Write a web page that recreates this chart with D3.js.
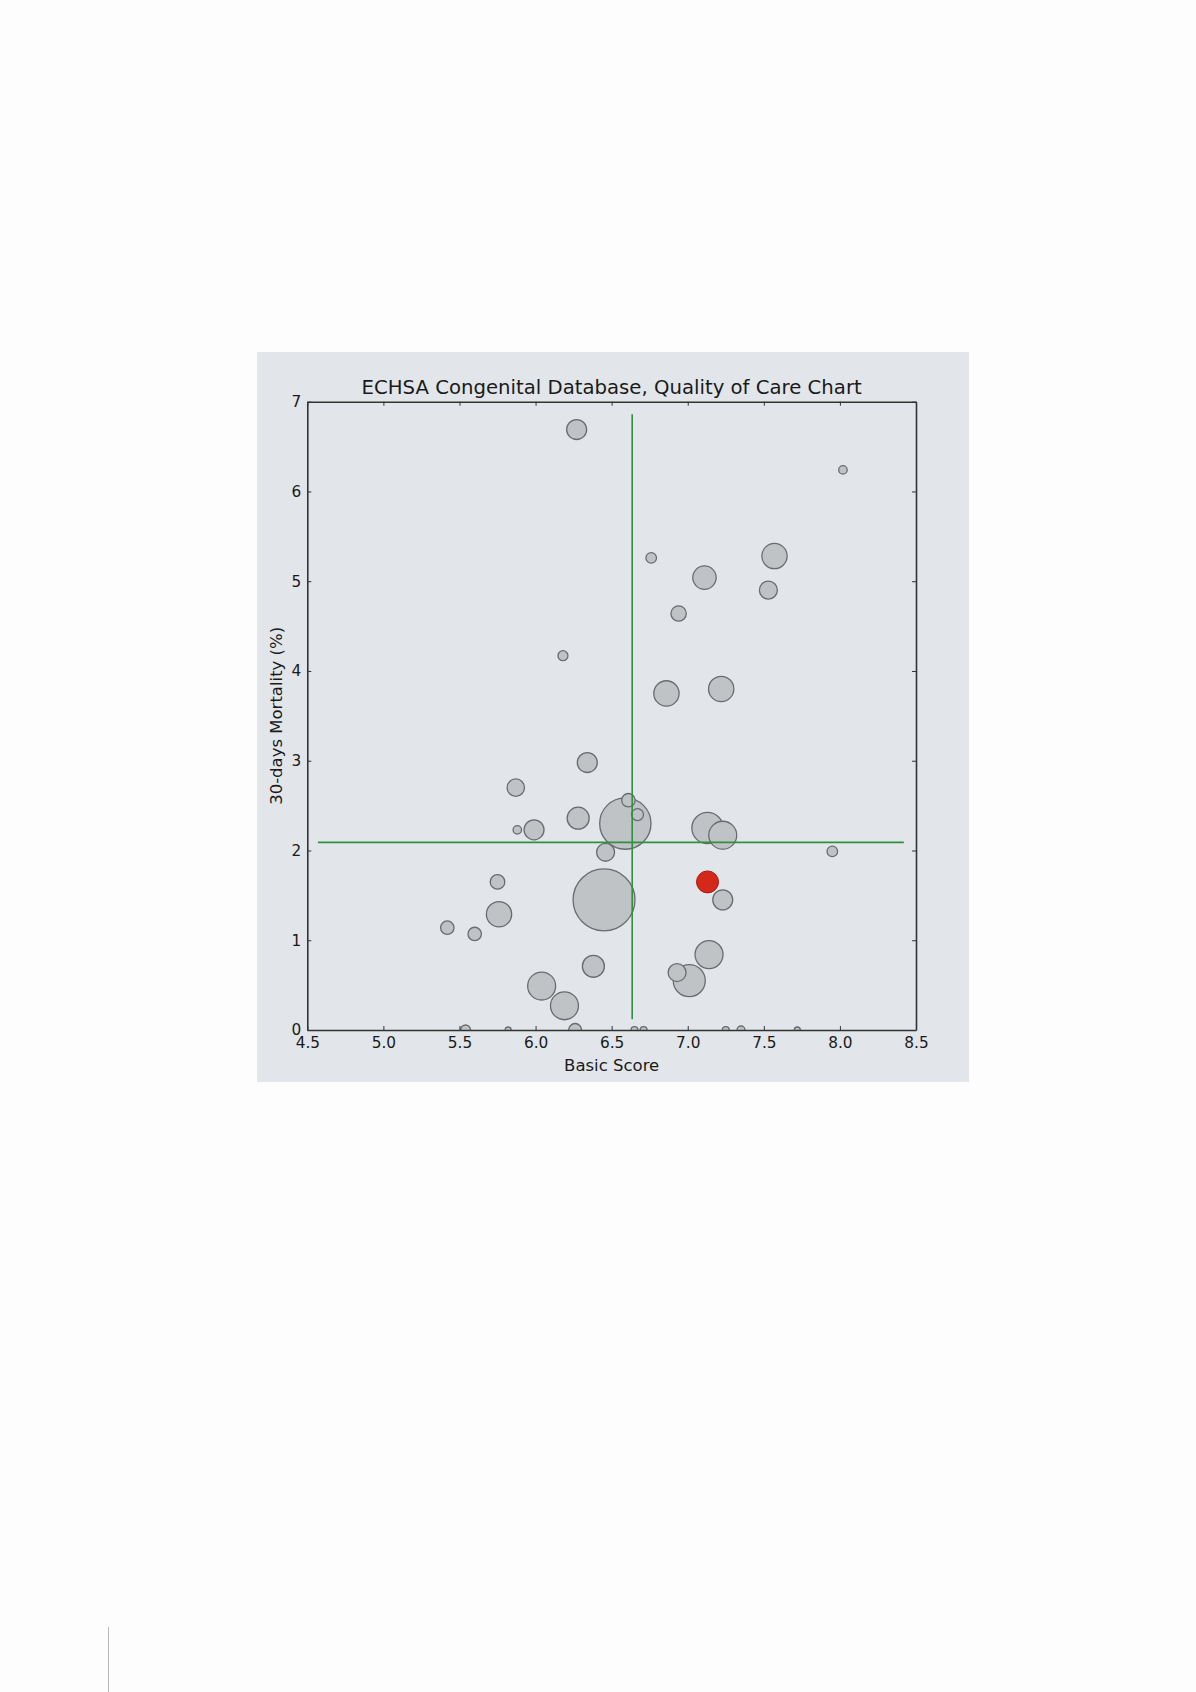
<!DOCTYPE html>
<html>
<head>
<meta charset="utf-8">
<script src="https://cdn.jsdelivr.net/npm/d3@7"></script>
<style>
  html, body { margin: 0; padding: 0; background: #fdfdfd; }
  svg { display: block; }
  text { font-family: "DejaVu Sans", sans-serif; fill: #1a1a1a; }
</style>
</head>
<body>
<script>
// ---- Data ----
const title = "ECHSA Congenital Database, Quality of Care Chart";
const xLabel = "Basic Score";
const yLabel = "30-days Mortality (%)";

// centres (gray bubbles)
const basicScore = [6.27, 8.02, 6.76, 7.57, 7.11, 7.53, 6.94, 6.18, 6.34, 5.87,
                    6.28, 5.88, 5.99, 6.59, 6.61, 6.67, 6.46, 6.86, 7.22, 7.13,
                    7.23, 7.95, 5.75, 5.76, 5.42, 5.60, 6.45, 6.38, 6.04, 6.19,
                    7.23, 7.14, 7.01, 6.93,
                    5.54, 5.82, 6.26, 6.65, 6.71, 7.25, 7.35, 7.72];
const mortality  = [6.69, 6.24, 5.26, 5.28, 5.04, 4.90, 4.64, 4.17, 2.98, 2.70,
                    2.36, 2.23, 2.23, 2.30, 2.56, 2.40, 1.98, 3.75, 3.80, 2.25,
                    2.17, 1.99, 1.65, 1.29, 1.14, 1.07, 1.45, 0.71, 0.49, 0.27,
                    1.45, 0.84, 0.55, 0.64,
                    0, 0, 0, 0, 0, 0, 0, 0];
const procedures = [100, 18, 28, 160, 137, 81, 59, 25, 100, 76,
                    121, 18, 100, 660, 45, 36, 81, 160, 160, 246,
                    196, 28, 53, 160, 45, 45, 960, 121, 196, 196,
                    100, 196, 256, 81,
                    25, 9, 42, 12, 12, 12, 16, 9];

// highlighted centre (red)
const ownScore = [7.13];
const ownMortality = [1.65];
const ownProcedures = [121];

// reference lines
const meanScore = [6.635];
const meanScoreSpan = [0.12, 6.86];
const meanMortality = [2.09];
const meanMortalitySpan = [4.57, 8.42];

const xTicks = [4.5, 5.0, 5.5, 6.0, 6.5, 7.0, 7.5, 8.0, 8.5];
const yTicks = [0, 1, 2, 3, 4, 5, 6, 7];

// ---- Drawing ----
const W = 1196, H = 1692;
const svg = d3.select("body").append("svg").attr("width", W).attr("height", H);

svg.append("rect").attr("width", W).attr("height", H).attr("fill", "#fdfdfd");

// page decoration line
svg.append("line").attr("x1", 108.5).attr("x2", 108.5).attr("y1", 1627).attr("y2", H)
  .attr("stroke", "#b5b8bb").attr("stroke-width", 1);

// figure panel
svg.append("rect").attr("x", 257).attr("y", 352).attr("width", 712).attr("height", 730)
  .attr("fill", "#e2e6ea");

const L = 307.3, R = 916, T = 401.7, B = 1030;
const x = d3.scaleLinear().domain([4.5, 8.5]).range([L, R]);
const y = d3.scaleLinear().domain([0, 7]).range([B, T]);
const rScale = d3.scaleSqrt().domain([0, 1000]).range([0, 31.6]);

svg.append("clipPath").attr("id", "plotclip")
  .append("rect").attr("x", L).attr("y", T).attr("width", R - L).attr("height", B - T);

const plot = svg.append("g").attr("clip-path", "url(#plotclip)");

const pts = basicScore.map((s, i) => ({s, m: mortality[i], n: procedures[i]}))
  .sort((a, b) => b.n - a.n);

plot.selectAll("circle.bub").data(pts).join("circle")
  .attr("class", "bub")
  .attr("cx", d => x(d.s)).attr("cy", d => y(d.m)).attr("r", d => rScale(d.n))
  .attr("fill", "#c0c3c6").attr("stroke", "#696c6f").attr("stroke-width", 1.3);

// reference lines
plot.append("line")
  .attr("x1", x(meanScore[0])).attr("x2", x(meanScore[0]))
  .attr("y1", y(meanScoreSpan[0])).attr("y2", y(meanScoreSpan[1]))
  .attr("stroke", "#2f9140").attr("stroke-width", 1.6);
plot.append("line")
  .attr("x1", x(meanMortalitySpan[0])).attr("x2", x(meanMortalitySpan[1]))
  .attr("y1", y(meanMortality[0])).attr("y2", y(meanMortality[0]))
  .attr("stroke", "#2f9140").attr("stroke-width", 1.6);

plot.selectAll("circle.own").data(ownScore.map((s, i) => ({s, m: ownMortality[i], n: ownProcedures[i]})))
  .join("circle").attr("class", "own")
  .attr("cx", d => x(d.s)).attr("cy", d => y(d.m)).attr("r", d => rScale(d.n))
  .attr("fill", "#d4281b").attr("stroke", "#a91d12").attr("stroke-width", 1);

// axes
const fmt1 = d3.format(".1f");
const gB = svg.append("g").attr("transform", `translate(0,${B})`)
  .call(d3.axisBottom(x).tickValues(xTicks).tickFormat(fmt1).tickSizeInner(-4).tickSizeOuter(0).tickPadding(7));
const gT = svg.append("g").attr("transform", `translate(0,${T})`)
  .call(d3.axisTop(x).tickValues(xTicks).tickFormat("").tickSizeInner(-4).tickSizeOuter(0));
const gL = svg.append("g").attr("transform", `translate(${L},0)`)
  .call(d3.axisLeft(y).tickValues(yTicks).tickFormat(d3.format("d")).tickSizeInner(-4).tickSizeOuter(0).tickPadding(6));
const gR = svg.append("g").attr("transform", `translate(${R},0)`)
  .call(d3.axisRight(y).tickValues(yTicks).tickFormat("").tickSizeInner(-4).tickSizeOuter(0));

[gB, gT, gL, gR].forEach(g => {
  g.select(".domain").attr("stroke", "#333").attr("stroke-width", 1.6);
  g.selectAll(".tick line").attr("stroke", "#333").attr("stroke-width", 1);
  g.selectAll(".tick text").attr("font-family", "DejaVu Sans").attr("font-size", 15.3).attr("fill", "#1a1a1a");
});

// title and labels
svg.append("text").attr("x", (L + R) / 2).attr("y", 394).attr("text-anchor", "middle")
  .attr("font-size", 19.7).text(title);
svg.append("text").attr("x", (L + R) / 2).attr("y", 1071).attr("text-anchor", "middle")
  .attr("font-size", 16.5).text(xLabel);
svg.append("text").attr("transform", `translate(282,${(T + B) / 2}) rotate(-90)`)
  .attr("text-anchor", "middle").attr("font-size", 16.5).text(yLabel);
</script>
</body>
</html>
